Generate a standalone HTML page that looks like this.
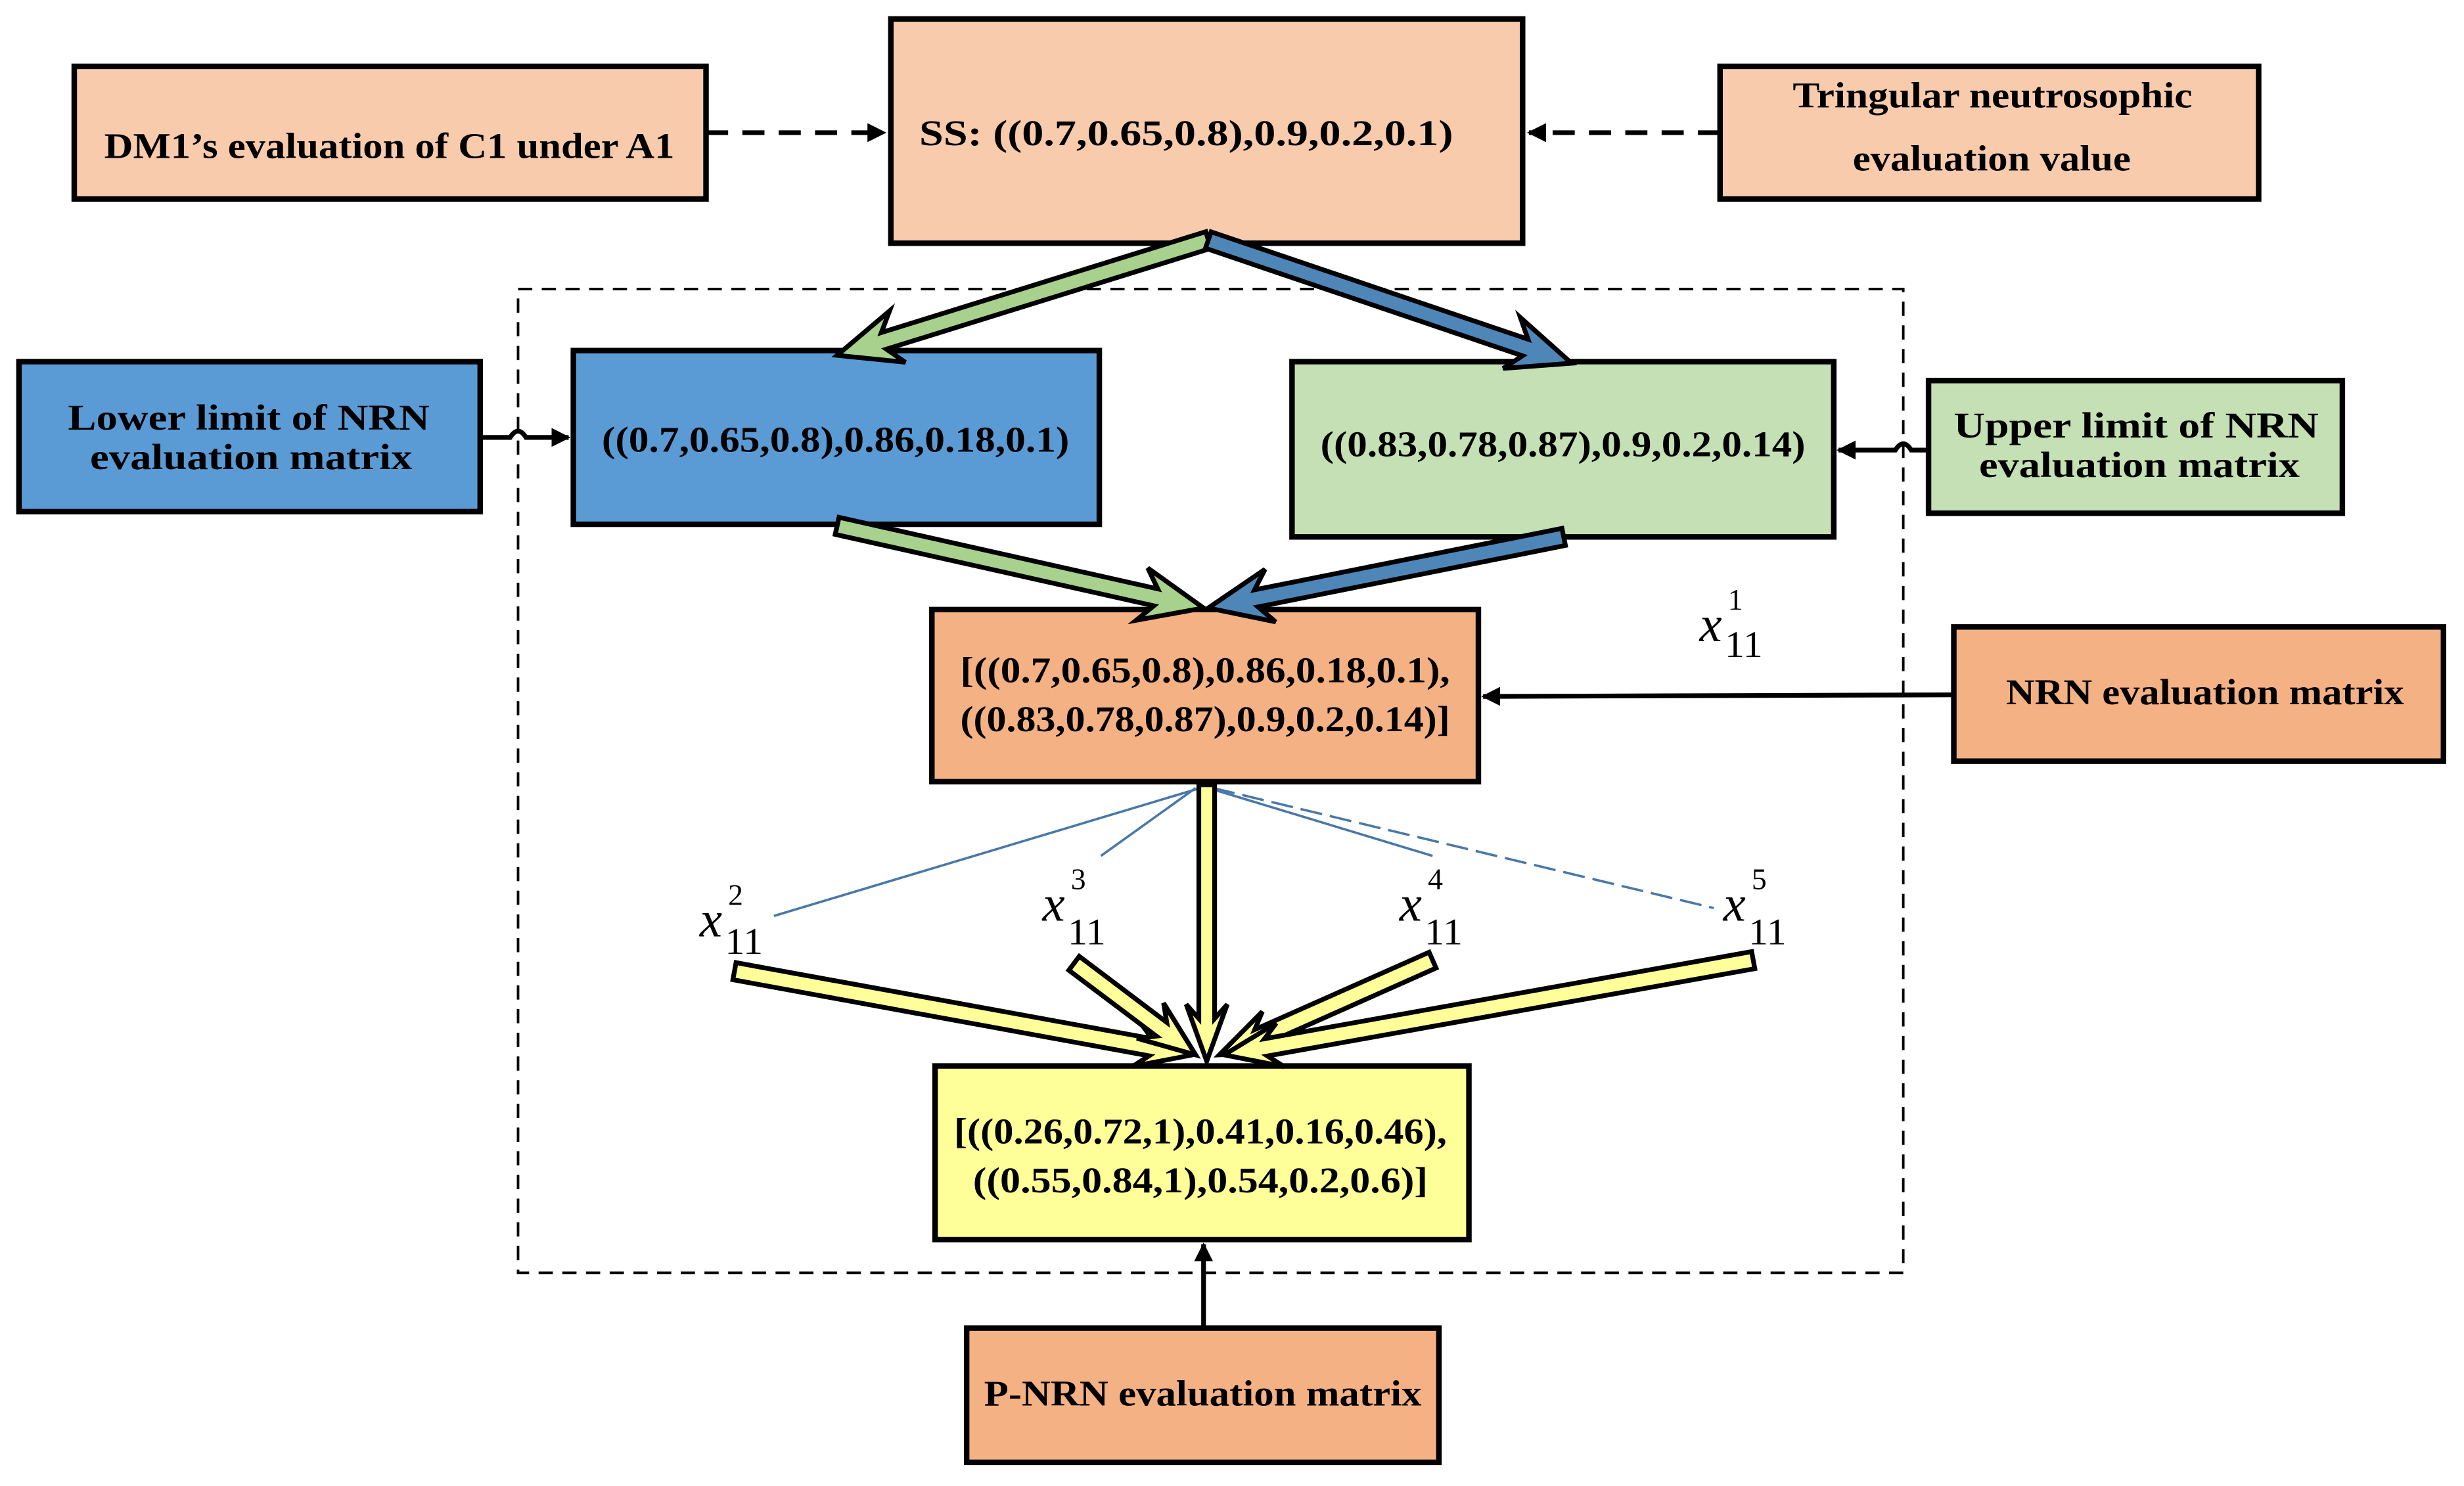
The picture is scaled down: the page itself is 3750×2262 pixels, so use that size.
<!DOCTYPE html>
<html><head><meta charset="utf-8"><style>
html,body{margin:0;padding:0;background:#fff;}
svg{display:block;}
.t{font-family:"Liberation Serif",serif;font-weight:bold;fill:#000;}
.m{font-family:"Liberation Serif",serif;font-style:italic;fill:#000;}
.n{font-family:"Liberation Serif",serif;fill:#000;}
</style></head><body>
<svg id="s" width="3750" height="2262" viewBox="0 0 1560 941" xmlns="http://www.w3.org/2000/svg">
<defs>
<marker id="ah" viewBox="0 0 10 10" refX="9" refY="5" markerWidth="4" markerHeight="4" orient="auto"><path d="M0,0L10,5L0,10z" fill="#000"/></marker>
</defs>
<rect width="1560" height="941" fill="#fff"/>
<rect x="328" y="183" width="877" height="623" fill="none" stroke="#000" stroke-width="1.6" stroke-dasharray="9,6"/>
<g stroke="#000" stroke-width="3.5">
<rect x="47" y="42" width="400" height="84" fill="#F8CBAD"/>
<rect x="564" y="12" width="400" height="142" fill="#F8CBAD"/>
<rect x="1089" y="42" width="341" height="84" fill="#F8CBAD"/>
<rect x="12" y="229" width="292" height="95" fill="#5B9BD5"/>
<rect x="363" y="222" width="333" height="110" fill="#5B9BD5"/>
<rect x="818" y="229" width="343" height="111" fill="#C5E0B4"/>
<rect x="1221" y="241" width="262" height="84" fill="#C5E0B4"/>
<rect x="590" y="386" width="346" height="109" fill="#F4B183"/>
<rect x="1237" y="397" width="310" height="85" fill="#F4B183"/>
<rect x="592" y="675" width="338" height="110" fill="#FFFF99"/>
<rect x="612" y="841" width="299" height="85" fill="#F4B183"/>
</g>
<g stroke="#000" stroke-width="3" fill="none">
<line x1="447" y1="84" x2="560" y2="84" stroke-dasharray="14,9" marker-end="url(#ah)"/>
<line x1="1089" y1="84" x2="968" y2="84" stroke-dasharray="14,9" marker-end="url(#ah)"/>
<path d="M304,277 H323 q5,-8 10,0 H360" marker-end="url(#ah)"/>
<path d="M1221,285 H1210 q-5,-8 -10,0 H1164" marker-end="url(#ah)"/>
<line x1="1237" y1="440" x2="939" y2="441" marker-end="url(#ah)"/>
<line x1="762" y1="841" x2="762" y2="788" marker-end="url(#ah)"/>
</g>
<g stroke="#4A78A8" stroke-width="1.5" fill="none">
<line x1="760" y1="499" x2="490" y2="580"/>
<line x1="757" y1="499" x2="697" y2="542"/>
<line x1="765" y1="499" x2="907" y2="542"/>
<line x1="768" y1="499" x2="1085" y2="575" stroke-dasharray="14,5"/>
</g>
<g id="arrows"></g>
<text class="t" x="66" y="100" font-size="23" textLength="361" lengthAdjust="spacingAndGlyphs">DM1’s evaluation of C1 under A1</text>
<text class="t" x="582" y="92" font-size="23" textLength="338" lengthAdjust="spacingAndGlyphs">SS: ((0.7,0.65,0.8),0.9,0.2,0.1)</text>
<text class="t" x="1135" y="68" font-size="23" textLength="253" lengthAdjust="spacingAndGlyphs">Tringular neutrosophic</text>
<text class="t" x="1173" y="108" font-size="23" textLength="176" lengthAdjust="spacingAndGlyphs">evaluation value</text>
<text class="t" x="43" y="272" font-size="23" textLength="229" lengthAdjust="spacingAndGlyphs">Lower limit of NRN</text>
<text class="t" x="57" y="297" font-size="23" textLength="204" lengthAdjust="spacingAndGlyphs">evaluation matrix</text>
<text class="t" x="381" y="286" font-size="23" textLength="296" lengthAdjust="spacingAndGlyphs">((0.7,0.65,0.8),0.86,0.18,0.1)</text>
<text class="t" x="836" y="289" font-size="23" textLength="307" lengthAdjust="spacingAndGlyphs">((0.83,0.78,0.87),0.9,0.2,0.14)</text>
<text class="t" x="1237" y="277" font-size="23" textLength="231" lengthAdjust="spacingAndGlyphs">Upper limit of NRN</text>
<text class="t" x="1253" y="302" font-size="23" textLength="203" lengthAdjust="spacingAndGlyphs">evaluation matrix</text>
<text class="t" x="608" y="432" font-size="23" textLength="310" lengthAdjust="spacingAndGlyphs">[((0.7,0.65,0.8),0.86,0.18,0.1),</text>
<text class="t" x="608" y="463" font-size="23" textLength="310" lengthAdjust="spacingAndGlyphs">((0.83,0.78,0.87),0.9,0.2,0.14)]</text>
<text class="t" x="1270" y="446" font-size="23" textLength="252" lengthAdjust="spacingAndGlyphs">NRN evaluation matrix</text>
<text class="t" x="604" y="724" font-size="23" textLength="312" lengthAdjust="spacingAndGlyphs">[((0.26,0.72,1),0.41,0.16,0.46),</text>
<text class="t" x="616" y="755" font-size="23" textLength="288" lengthAdjust="spacingAndGlyphs">((0.55,0.84,1),0.54,0.2,0.6)]</text>
<text class="t" x="623" y="890" font-size="23" textLength="277" lengthAdjust="spacingAndGlyphs">P-NRN evaluation matrix</text>
<g>
<text class="m" x="1076" y="406" font-size="32">x</text><text class="n" x="1094" y="386" font-size="19">1</text><text class="n" x="1092" y="416" font-size="24" textLength="24" lengthAdjust="spacingAndGlyphs">11</text>
<text class="m" x="443" y="593" font-size="32">x</text><text class="n" x="461" y="573" font-size="19">2</text><text class="n" x="459" y="604" font-size="24" textLength="24" lengthAdjust="spacingAndGlyphs">11</text>
<text class="m" x="660" y="583" font-size="32">x</text><text class="n" x="678" y="563" font-size="19">3</text><text class="n" x="676" y="598" font-size="24" textLength="24" lengthAdjust="spacingAndGlyphs">11</text>
<text class="m" x="886" y="583" font-size="32">x</text><text class="n" x="904" y="563" font-size="19">4</text><text class="n" x="902" y="598" font-size="24" textLength="24" lengthAdjust="spacingAndGlyphs">11</text>
<text class="m" x="1091" y="583" font-size="32">x</text><text class="n" x="1109" y="563" font-size="19">5</text><text class="n" x="1107" y="598" font-size="24" textLength="24" lengthAdjust="spacingAndGlyphs">11</text>
</g>
</svg>
<script>
(function(){
var g=document.getElementById('arrows');
function arrow(x1,y1,x2,y2,col,h,H,L){
  var dx=x2-x1,dy=y2-y1,len=Math.hypot(dx,dy),ux=dx/len,uy=dy/len,nx=-uy,ny=ux;
  var nk=L-9;
  function p(t,s){return (x1+ux*t+nx*s).toFixed(1)+','+(y1+uy*t+ny*s).toFixed(1);}
  var pts=[p(0,h),p(len-nk,h),p(len-L,H),p(len,0),p(len-L,-H),p(len-nk,-h),p(0,-h)];
  var e=document.createElementNS('http://www.w3.org/2000/svg','polygon');
  e.setAttribute('points',pts.join(' '));
  e.setAttribute('fill',col);e.setAttribute('stroke','#000');e.setAttribute('stroke-width','3');
  g.appendChild(e);
}
arrow(765,152,530,225,'#A9D18E',5.5,17,40);
arrow(765,152,995,230,'#4F86B8',5.5,17,40);
arrow(530,333,762,385,'#A9D18E',5.5,17,40);
arrow(990,340,765,385,'#4F86B8',5.5,17,40);
arrow(465,615,755,668,'#FFFF99',5.5,14,36);
arrow(680,610,757,668,'#FFFF99',5.5,14,36);
arrow(907,608,772,668,'#FFFF99',5.5,14,36);
arrow(1110,608,775,668,'#FFFF99',5.5,14,36);
arrow(764,497,764,672,'#FFFF99',5,13,36);
})();
</script>
</body></html>
